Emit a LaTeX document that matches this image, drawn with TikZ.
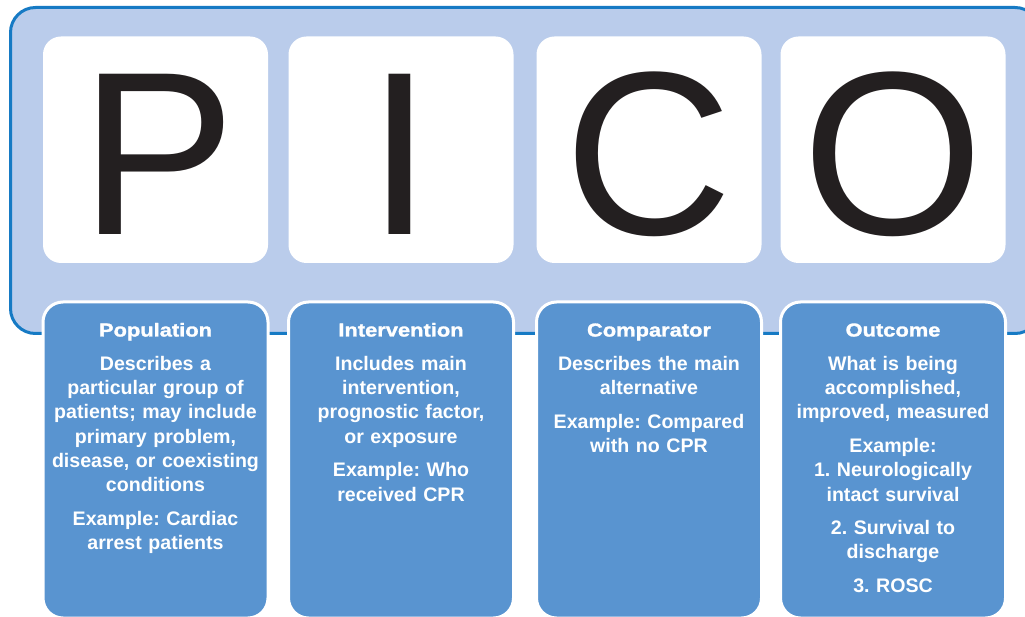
\documentclass[tikz,border=0pt]{standalone}
\usepackage{fontspec}
\setmainfont{Liberation Sans}
\newfontfamily\titlefont{Liberation Sans}[FakeStretch=1.17,FakeBold=1.5]
\definecolor{outerfill}{RGB}{186,204,235}
\definecolor{outerline}{RGB}{22,122,196}
\definecolor{boxblue}{RGB}{89,148,208}
\definecolor{lettercol}{RGB}{35,31,32}
\frenchspacing
\begin{document}
\begin{tikzpicture}[x=1pt,y=-1pt,
  outerframe/.style={draw=outerline, line width=3pt, fill=outerfill, rounded corners=25pt},
  whitebox/.style={draw=none, fill=white, rounded corners=18pt, minimum width=225pt, minimum height=226.5pt, inner sep=0pt},
  bluebox/.style={draw=white, line width=3pt, fill=boxblue, rounded corners=20pt, minimum width=225pt, minimum height=316pt, inner sep=0pt},
  bigletter/.style={text=lettercol, font=\fontsize{233}{233}\selectfont, anchor=base, inner sep=0pt},
  titletext/.style={text=white, font=\titlefont\bfseries\fontsize{18.7}{22}\selectfont, anchor=base, inner sep=0pt},
  bodytext/.style={text=white, font=\frenchspacing\bfseries\fontsize{19.6}{24.2}\selectfont, align=center, text width=226pt, anchor=base, inner sep=0pt}
]
\useasboundingbox (0,0) rectangle (1025,617);
\clip (0,0) rectangle (1025,617);
\draw[outerframe] (10.5,7.5) rectangle (1040,333.5);
% white letter boxes
\node[whitebox] (wp) at (155.5,149.75) {};
\node[whitebox] (wi) at (401,149.75) {};
\node[whitebox] (wc) at (649,149.75) {};
\node[whitebox] (wo) at (893,149.75) {};
\node[bigletter] (lp) at (158.5,234.5) {P};
\node[bigletter] (li) at (400,234.5) {I};
\node[bigletter] (lc) at (649,234.5) {C};
\node[bigletter] (lo) at (893,234.5) {O};
% blue boxes
\node[bluebox] (bp) at (155.5,460) {};
\node[bluebox] (bi) at (401,460) {};
\node[bluebox] (bc) at (649,460) {};
\node[bluebox] (bo) at (893,460) {};
% titles
\node[titletext] (tp) at (155.5,336.5) {Population};
\node[titletext] (ti) at (401,336.5) {Intervention};
\node[titletext] (tc) at (649,336.5) {Comparator};
\node[titletext] (to) at (893,336.5) {Outcome};
% bodies
\node[bodytext] (dp) at (155.5,370.5) {Describes a\\ particular group of\\ patients; may include\\ primary problem,\\ disease, or coexisting\\ conditions\\[9.5pt] Example: Cardiac\\ arrest patients};
\node[bodytext] (di) at (401,370.5) {Includes main\\ intervention,\\ prognostic factor,\\ or exposure\\[9.5pt] Example: Who\\ received CPR};
\node[bodytext] (dc) at (649,370.5) {Describes the main\\ alternative\\[9.5pt] Example: Compared\\ with no CPR};
\node[bodytext] (do) at (893,370.5) {What is being\\ accomplished,\\ improved, measured\\[9.5pt] Example:\\ 1. Neurologically\\ intact survival\\[9.5pt] 2. Survival to\\ discharge\\[9.5pt] 3. ROSC};
\end{tikzpicture}
\end{document}
